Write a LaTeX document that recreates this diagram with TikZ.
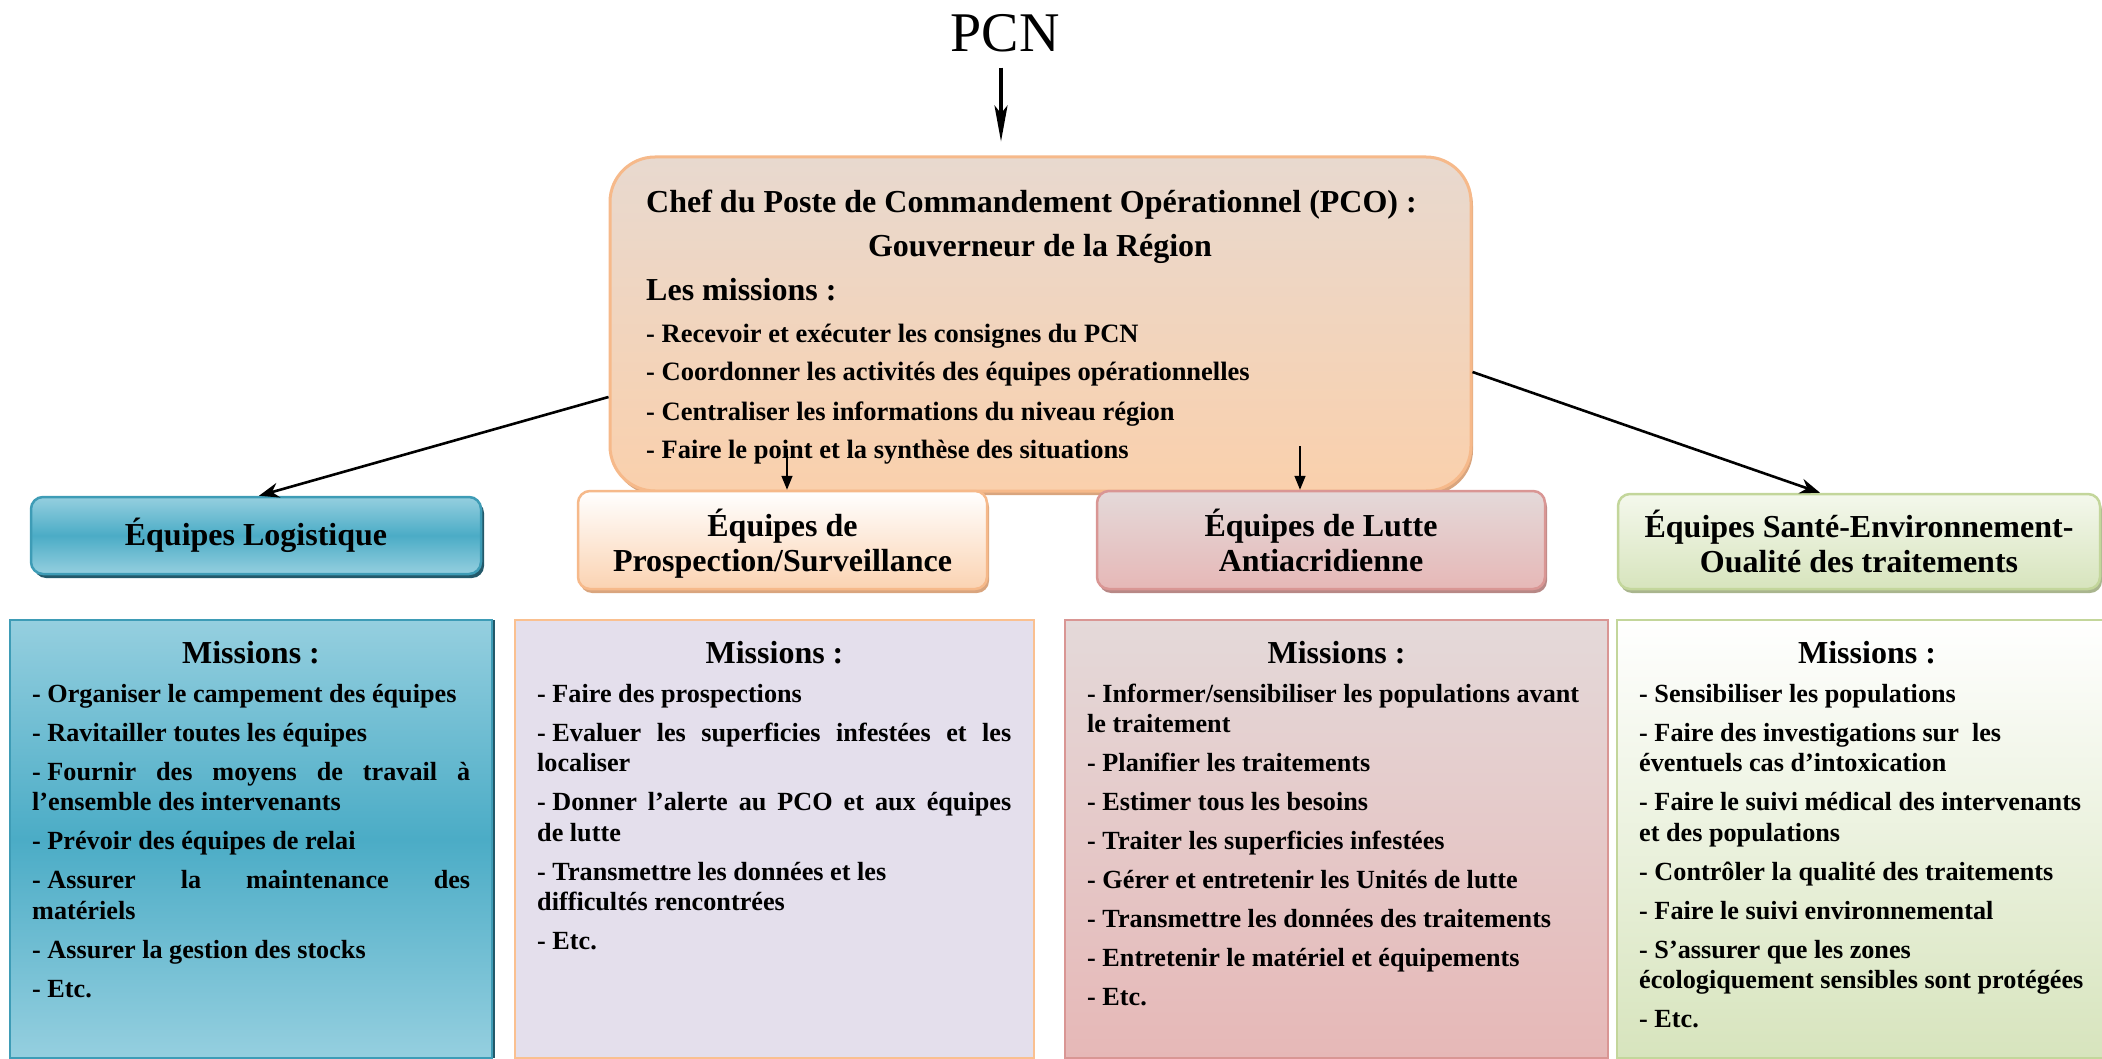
\documentclass[tikz,border=0pt]{standalone}
\usepackage{fontspec}
\setmainfont{Liberation Serif}
\usetikzlibrary{arrows.meta,calc,shadows}
\definecolor{bluemid}{HTML}{4BACC6}
\definecolor{bluelight}{HTML}{95CFDF}
\definecolor{blueedge}{HTML}{3E9CB6}
\definecolor{blueshadow}{HTML}{23596A}
\definecolor{pcotop}{HTML}{E8D9CF}
\definecolor{pcobot}{HTML}{FAD0AC}
\definecolor{peachedge}{HTML}{F6B98A}
\definecolor{peachbot}{HTML}{FBD3B2}
\definecolor{peachshadow}{HTML}{D9A57E}
\definecolor{lavender}{HTML}{E4DFEC}
\definecolor{lavedge}{HTML}{FAC090}
\definecolor{rosetop}{HTML}{E4D9D9}
\definecolor{rosebot}{HTML}{E6B8B7}
\definecolor{roseedge}{HTML}{D99694}
\definecolor{roseshadow}{HTML}{B78886}
\definecolor{greentop}{HTML}{F4F8EC}
\definecolor{greenbot}{HTML}{D7E4BD}
\definecolor{greenedge}{HTML}{C3D69B}
\definecolor{greenshadow}{HTML}{A9B58E}
\newcommand\hdrfont{\fontsize{32}{35}\selectfont\bfseries}
\newcommand\pcofont{\fontsize{26.5}{30.5}\selectfont\bfseries}
\newcommand\lstfont{\fontsize{26.2}{30.5}\selectfont\bfseries}
\newcommand\dsh{-\kern0.25em}
\begin{document}
\begin{tikzpicture}[x=1pt,y=-1pt,
  hdr/.style={draw, line width=2.5pt, rounded corners=12pt, inner sep=0pt, align=center, font=\hdrfont},
  mbox/.style={draw, line width=2.5pt, inner sep=0pt},
  lst/.style={inner sep=0pt, anchor=base west, font=\lstfont, align=justify,
    execute at begin node={\parindent=0pt\parskip=8.5pt\relax\hyphenpenalty=10000\exhyphenpenalty=10000\tolerance=10000\hbadness=10000\emergencystretch=20pt\relax}},
  mtitle/.style={inner sep=0pt, anchor=base, font=\hdrfont},
  pcoline/.style={inner sep=0pt, anchor=base west, font=\pcofont},
  thinarr/.style={line width=1.6pt, -{Triangle[length=14pt,width=11pt]}},
  diagarr/.style={line width=2.6pt, -{Stealth[length=20pt,width=15pt]}},
  pcnarr/.style={line width=3.5pt, -{Stealth[length=36pt,width=13pt,inset=8pt]}}
]
\useasboundingbox (0,0) rectangle (2102,1059);

% mission boxes
\node[mbox, draw=blueedge, top color=bluelight, bottom color=bluelight, middle color=bluemid,
  minimum width=482pt, minimum height=438pt,
  drop shadow={shadow xshift=3pt, shadow yshift=0pt, fill=blueshadow, opacity=1}] (mlogi) at (251,839) {};
\node[mbox, draw=lavedge, fill=lavender, minimum width=519pt, minimum height=438pt] (mprosp) at (774.5,839) {};
\node[mbox, draw=roseedge, top color=rosetop, bottom color=rosebot, minimum width=543pt, minimum height=438pt] (mlutte) at (1336.5,839) {};
\node[mbox, draw=greenedge, top color=white, bottom color=greenbot, minimum width=500pt, minimum height=438pt] (msante) at (1867,839) {};

% PCN and PCO
\node[inner sep=0pt, anchor=base, font=\fontsize{56}{60}\selectfont] (pcn) at (1005,52) {PCN};
\node[draw=peachedge, line width=3pt, rounded corners=45pt, top color=pcotop, bottom color=pcobot,
  minimum width=861pt, minimum height=334pt,
  drop shadow={shadow xshift=2pt, shadow yshift=-4pt, fill=peachshadow, opacity=1}] (pco) at (1040.5,324) {};

% team header boxes
\node[hdr, draw=blueedge, top color=bluelight, bottom color=bluelight, middle color=bluemid,
  minimum width=450pt, minimum height=77pt,
  drop shadow={shadow xshift=3pt, shadow yshift=-4pt, fill=blueshadow, opacity=1}] (logi) at (256,535.5) {Équipes Logistique};
\node[hdr, draw=peachedge, top color=white, bottom color=peachbot,
  minimum width=409pt, minimum height=98pt,
  drop shadow={shadow xshift=2pt, shadow yshift=-4pt, fill=peachshadow, opacity=1}] (prosp) at (782.5,540) {Équipes de\\\smash{Prospection/Surveillance}};
\node[hdr, draw=roseedge, top color=rosetop, bottom color=rosebot,
  minimum width=448pt, minimum height=98pt,
  drop shadow={shadow xshift=2pt, shadow yshift=-4pt, fill=roseshadow, opacity=1}] (lutte) at (1321,540) {Équipes de Lutte\\Antiacridienne};
\node[hdr, draw=greenedge, top color=greentop, bottom color=greenbot,
  minimum width=482pt, minimum height=95pt,
  drop shadow={shadow xshift=2pt, shadow yshift=-4pt, fill=greenshadow, opacity=1}] (sante) at (1859,541.5) {Équipes Santé-Environnement-\\Oualité des traitements};

% PCO texts
\node[pcoline, font=\hdrfont] (pco1) at (646,213) {Chef du Poste de Commandement Opérationnel (PCO) :};
\node[inner sep=0pt, anchor=base, font=\hdrfont] (pco2) at (1040,257) {Gouverneur de la Région};
\node[pcoline, font=\hdrfont] (pco3) at (646,301) {Les missions :};
\node[pcoline] (pco4) at (646,342) {- Recevoir et exécuter les consignes du PCN};
\node[pcoline] (pco5) at (646,381) {- Coordonner les activités des équipes opérationnelles};
\node[pcoline] (pco6) at (646,420) {- Centraliser les informations du niveau région};
\node[pcoline] (pco7) at (646,458) {- Faire le point et la synthèse des situations};

% mission texts
\node[mtitle] (mt1) at (251,663) {Missions :};
\node[mtitle] (mt2) at (774.5,663) {Missions :};
\node[mtitle] (mt3) at (1336.5,663) {Missions :};
\node[mtitle] (mt4) at (1867,663) {Missions :};

\node[lst, text width=438pt] (tlogi) at (32,702) {- Organiser le campement des équipes\par
- Ravitailler toutes les équipes\par
\dsh Fournir des moyens de travail à\linebreak l’ensemble des intervenants\par
- Prévoir des équipes de relai\par
\dsh Assurer la maintenance des\linebreak matériels\par
- Assurer la gestion des stocks\par
- Etc.};

\node[lst, text width=474pt] (tprosp) at (537,702) {- Faire des prospections\par
\dsh Evaluer les superficies infestées et les\linebreak localiser\par
\dsh Donner l’alerte au PCO et aux équipes\linebreak de lutte\par
- Transmettre les données et les\newline difficultés rencontrées\par
- Etc.};

\node[lst, text width=504pt] (tlutte) at (1087,702) {- Informer/sensibiliser les populations avant\newline le traitement\par
- Planifier les traitements\par
- Estimer tous les besoins\par
- Traiter les superficies infestées\par
- Gérer et entretenir les Unités de lutte\par
- Transmettre les données des traitements\par
- Entretenir le matériel et équipements\par
- Etc.};

\node[lst, text width=458pt] (tsante) at (1639,702) {- Sensibiliser les populations\par
- Faire des investigations sur\ \ les\newline éventuels cas d’intoxication\par
- Faire le suivi médical des intervenants\newline et des populations\par
- Contrôler la qualité des traitements\par
- Faire le suivi environnemental\par
- S’assurer que les zones\newline écologiquement sensibles sont protégées\par
- Etc.};

% connectors
\draw[pcnarr] ([xshift=-4pt, yshift=-15pt]pcn.south) -- ([xshift=-39.5pt, yshift=14pt]pco.north);
\coordinate (pcoL) at ($(pco.west)+(0,73)$);
\coordinate (pcoR) at ($(pco.east)+(0,48)$);
\draw[diagarr] (pcoL) -- ([xshift=3pt]logi.north);
\draw[diagarr] (pcoR) -- ([xshift=-39pt]sante.north);
\coordinate (vP) at ($(pco.center)+(-253.5,125)$);
\coordinate (vL) at ($(pco.center)+(259.5,122)$);
\draw[thinarr] (vP) -- (vP |- prosp.north);
\draw[thinarr] (vL) -- (vL |- lutte.north);
\end{tikzpicture}
\end{document}
